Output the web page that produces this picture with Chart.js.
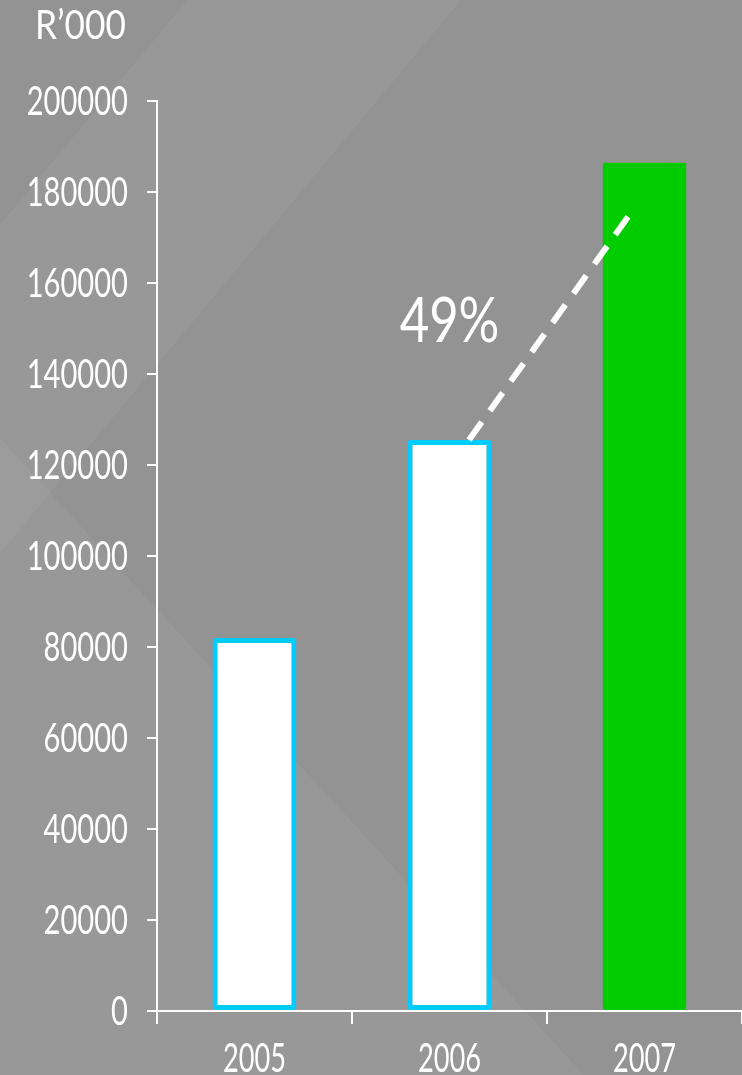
<!DOCTYPE html>
<html>
<head>
<meta charset="utf-8">
<script src="https://cdn.jsdelivr.net/npm/chart.js@4/dist/chart.umd.min.js"></script>
<style>
  html, body { margin: 0; padding: 0; }
  body {
    width: 742px; height: 1075px; overflow: hidden;
    background:
      linear-gradient(129.8deg, rgba(255,255,255,0) 144px, rgba(255,255,255,0.045) 144px, rgba(255,255,255,0.045) 354px, rgba(255,255,255,0) 354px),
      linear-gradient(227.5deg, rgba(255,255,255,0) 843px, rgba(255,255,255,0.045) 843px),
      #939393;
  }
  canvas { display: block; }
</style>
</head>
<body>
<canvas id="revenueChart" width="742" height="1075"></canvas>
<script>
// Revenue by year, in thousands of rand
const years = ['2005', '2006', '2007'];
const revenue = [82000, 125500, 186500];
const barFill = ['#ffffff', '#ffffff', '#00cc00'];
const barEdge = ['#00ccff', '#00ccff', '#00cc00'];

// Value axis
const yMin = 0;
const yMax = 200000;
const yStep = 20000;
const unitLabel = 'R’000';

// Growth arrow from 2006 towards 2007 (x in category index units)
const growthLine = [{ x: 1.1, y: 125500 }, { x: 1.94, y: 176000 }];
const growthLabelAt = { x: 1.0, y: 147000 };
const growthPct = Math.round((revenue[2] / revenue[1] - 1) * 100) + '%';

const FONT = "Lato, 'Liberation Sans', sans-serif";

// Draws text in a horizontally squeezed face (narrow look)
function narrowText(ctx, text, x, y, size, align, squeeze) {
  ctx.save();
  ctx.font = '400 ' + size + 'px ' + FONT;
  ctx.textAlign = align;
  ctx.textBaseline = 'alphabetic';
  ctx.translate(x, y);
  ctx.scale(squeeze, 1);
  ctx.fillText(text, 0, 0);
  ctx.restore();
}

const textPlugin = {
  id: 'chartText',
  afterDraw(chart) {
    const ctx = chart.ctx;
    const xs = chart.scales.x;
    const xl = chart.scales.xl;
    const ys = chart.scales.y;
    ctx.save();
    ctx.fillStyle = '#ffffff';

    // value axis labels
    ys.ticks.forEach((t, i) => {
      narrowText(ctx, String(t.value), ys.right - 29, ys.getPixelForTick(i) + 14, 41, 'right', 0.71);
    });
    // year labels
    xs.ticks.forEach((t, i) => {
      narrowText(ctx, years[t.value], xs.getPixelForTick(i), 1072, 40, 'center', 0.68);
    });
    // unit caption
    narrowText(ctx, unitLabel, 35, 39, 40, 'left', 0.88);
    // growth percentage
    narrowText(ctx, growthPct, xl.getPixelForValue(growthLabelAt.x), ys.getPixelForValue(growthLabelAt.y), 62, 'center', 0.82);
    ctx.restore();
  }
};

new Chart(document.getElementById('revenueChart'), {
  type: 'bar',
  data: {
    labels: years,
    datasets: [
      {
        type: 'line',
        data: growthLine,
        xAxisID: 'xl',
        yAxisID: 'y',
        borderColor: '#ffffff',
        borderWidth: 6,
        borderDash: [22, 14],
        borderCapStyle: 'butt',
        pointRadius: 0,
        tension: 0,
        fill: false,
        order: 0
      },
      {
        type: 'bar',
        data: revenue,
        xAxisID: 'x',
        yAxisID: 'y',
        backgroundColor: barFill,
        borderColor: barEdge,
        borderWidth: 5,
        borderRadius: 3,
        borderSkipped: false,
        grouped: false,
        barPercentage: 0.43,
        categoryPercentage: 1,
        order: 1
      }
    ]
  },
  options: {
    responsive: false,
    animation: false,
    devicePixelRatio: 1,
    layout: { padding: { top: 101, right: 0, bottom: 0, left: 0 } },
    plugins: { legend: { display: false }, tooltip: { enabled: false } },
    scales: {
      x: {
        type: 'category',
        offset: true,
        grid: { display: true, drawOnChartArea: false, drawTicks: true, tickLength: 13, color: '#ffffff', lineWidth: 2, offset: true },
        border: { display: true, color: '#ffffff', width: 2 },
        ticks: { display: false },
        afterFit(scale) { scale.height = 64; }
      },
      xl: {
        type: 'linear',
        display: false,
        offset: false,
        min: -0.5,
        max: 2.5
      },
      y: {
        type: 'linear',
        min: yMin,
        max: yMax,
        grid: { display: true, drawOnChartArea: false, drawTicks: true, tickLength: 10, color: '#ffffff', lineWidth: 2 },
        border: { display: true, color: '#ffffff', width: 2 },
        ticks: { display: false, stepSize: yStep },
        afterFit(scale) { scale.width = 157; }
      }
    }
  },
  plugins: [textPlugin]
});
</script>
</body>
</html>
